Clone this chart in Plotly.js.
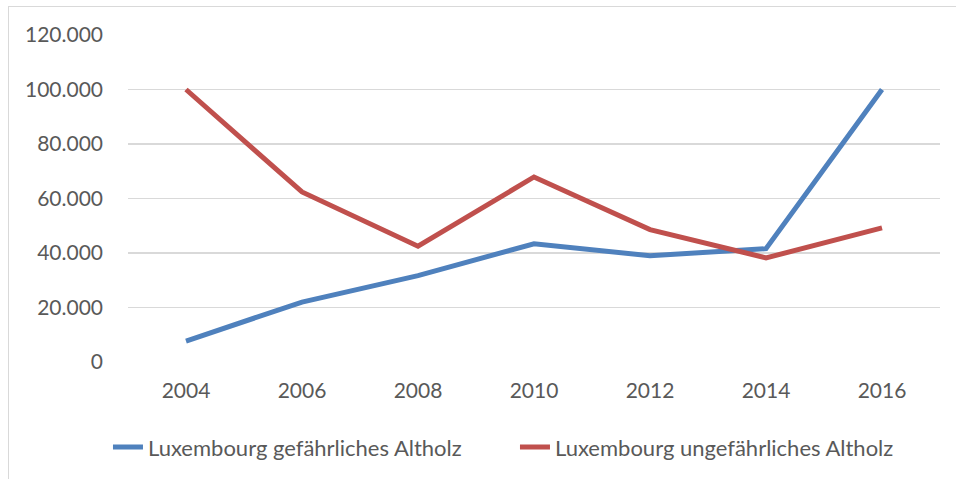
<!DOCTYPE html>
<html>
<head>
<meta charset="utf-8">
<script src="https://cdn.plot.ly/plotly-3.0.1.min.js"></script>
<style>
html,body{margin:0;padding:0;background:#fff;overflow:hidden;}
#chart{width:956px;height:479px;position:absolute;left:0;top:0;}
#frame{position:absolute;left:8px;top:6px;width:1000px;height:600px;border:1px solid #d9d9d9;pointer-events:none;}
</style>
</head>
<body>
<div id="chart"></div>
<div id="frame"></div>
<script>
const years = ['2004','2006','2008','2010','2012','2014','2016'];
const gefaehrlich = [7700, 22000, 31700, 43400, 39000, 41600, 100000];
const ungefaehrlich = [100000, 62400, 42500, 67900, 48600, 38200, 49200];
const seriesNames = ['Luxembourg gefährliches Altholz', 'Luxembourg ungefährliches Altholz'];
const yTicks = [0, 20000, 40000, 60000, 80000, 100000, 120000];

const font = 'Lato, "Open Sans", sans-serif';
const traces = [
  {x: years, y: gefaehrlich, name: seriesNames[0], type: 'scatter', mode: 'lines',
   line: {color: '#4f81bd', width: 5}},
  {x: years, y: ungefaehrlich, name: seriesNames[1], type: 'scatter', mode: 'lines',
   line: {color: '#c0504d', width: 5}}
];
const layout = {
  width: 956, height: 479,
  margin: {l: 128, r: 16, t: 35, b: 116},
  paper_bgcolor: '#fff', plot_bgcolor: '#fff',
  separators: ',.',
  font: {family: font, size: 21, color: '#595959'},
  showlegend: true,
  legend: {orientation: 'h', x: 0.9778, xanchor: 'right', y: -0.257, yanchor: 'middle',
           entrywidth: 362, entrywidthmode: 'pixels',
           font: {family: font, size: 22, color: '#595959'}, traceorder: 'normal'},
  xaxis: {type: 'category', range: [-0.5, 6.5], showgrid: false, showline: false,
          zeroline: false, ticks: '', tickangle: 0, ticklabelstandoff: 14, fixedrange: true},
  yaxis: {range: [0, 120000], tickvals: yTicks, tickformat: ',d', showgrid: true,
          gridcolor: '#d9d9d9', gridwidth: 1.5, zeroline: false, showline: false,
          ticks: '', ticklabelstandoff: 24, fixedrange: true}
};
Plotly.newPlot('chart', traces, layout, {displayModeBar: false, staticPlot: true});
</script>
</body>
</html>
